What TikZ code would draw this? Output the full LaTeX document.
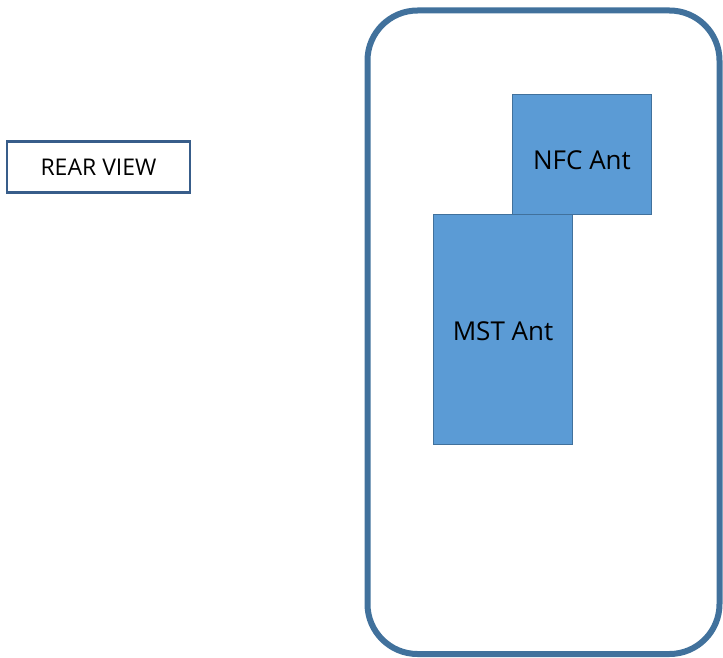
\documentclass[tikz,border=0pt]{standalone}
\usepackage{fontspec}
\setmainfont{Open Sans}
\definecolor{edgeblue}{HTML}{41719C}
\definecolor{fillblue}{HTML}{5B9BD5}
\definecolor{rearedge}{HTML}{385D8A}
\begin{document}
\begin{tikzpicture}[x=1pt,y=-1pt,
  antbox/.style={draw=edgeblue,fill=fillblue,line width=0.8pt},
  lbl/.style={font=\fontsize{26}{30}\selectfont,text=black}]
\useasboundingbox (0,0) rectangle (723,658);
\draw[edgeblue,line width=6pt,rounded corners=50pt] (367.5,10.5) rectangle (719.5,654);
\node[draw=rearedge,line width=2.2pt,minimum width=183pt,minimum height=51pt,inner sep=0pt,
  font=\fontsize{23}{27}\selectfont] (rear) at (98.5,167) {REAR VIEW};
\draw[antbox] (512.5,94.5) rectangle (651.5,214.5);
\node[lbl] (nfc) at (582,160) {NFC Ant};
\draw[antbox] (433,214.5) rectangle (572,444.5);
\node[lbl] (mst) at (503,331) {MST Ant};
\end{tikzpicture}
\end{document}
